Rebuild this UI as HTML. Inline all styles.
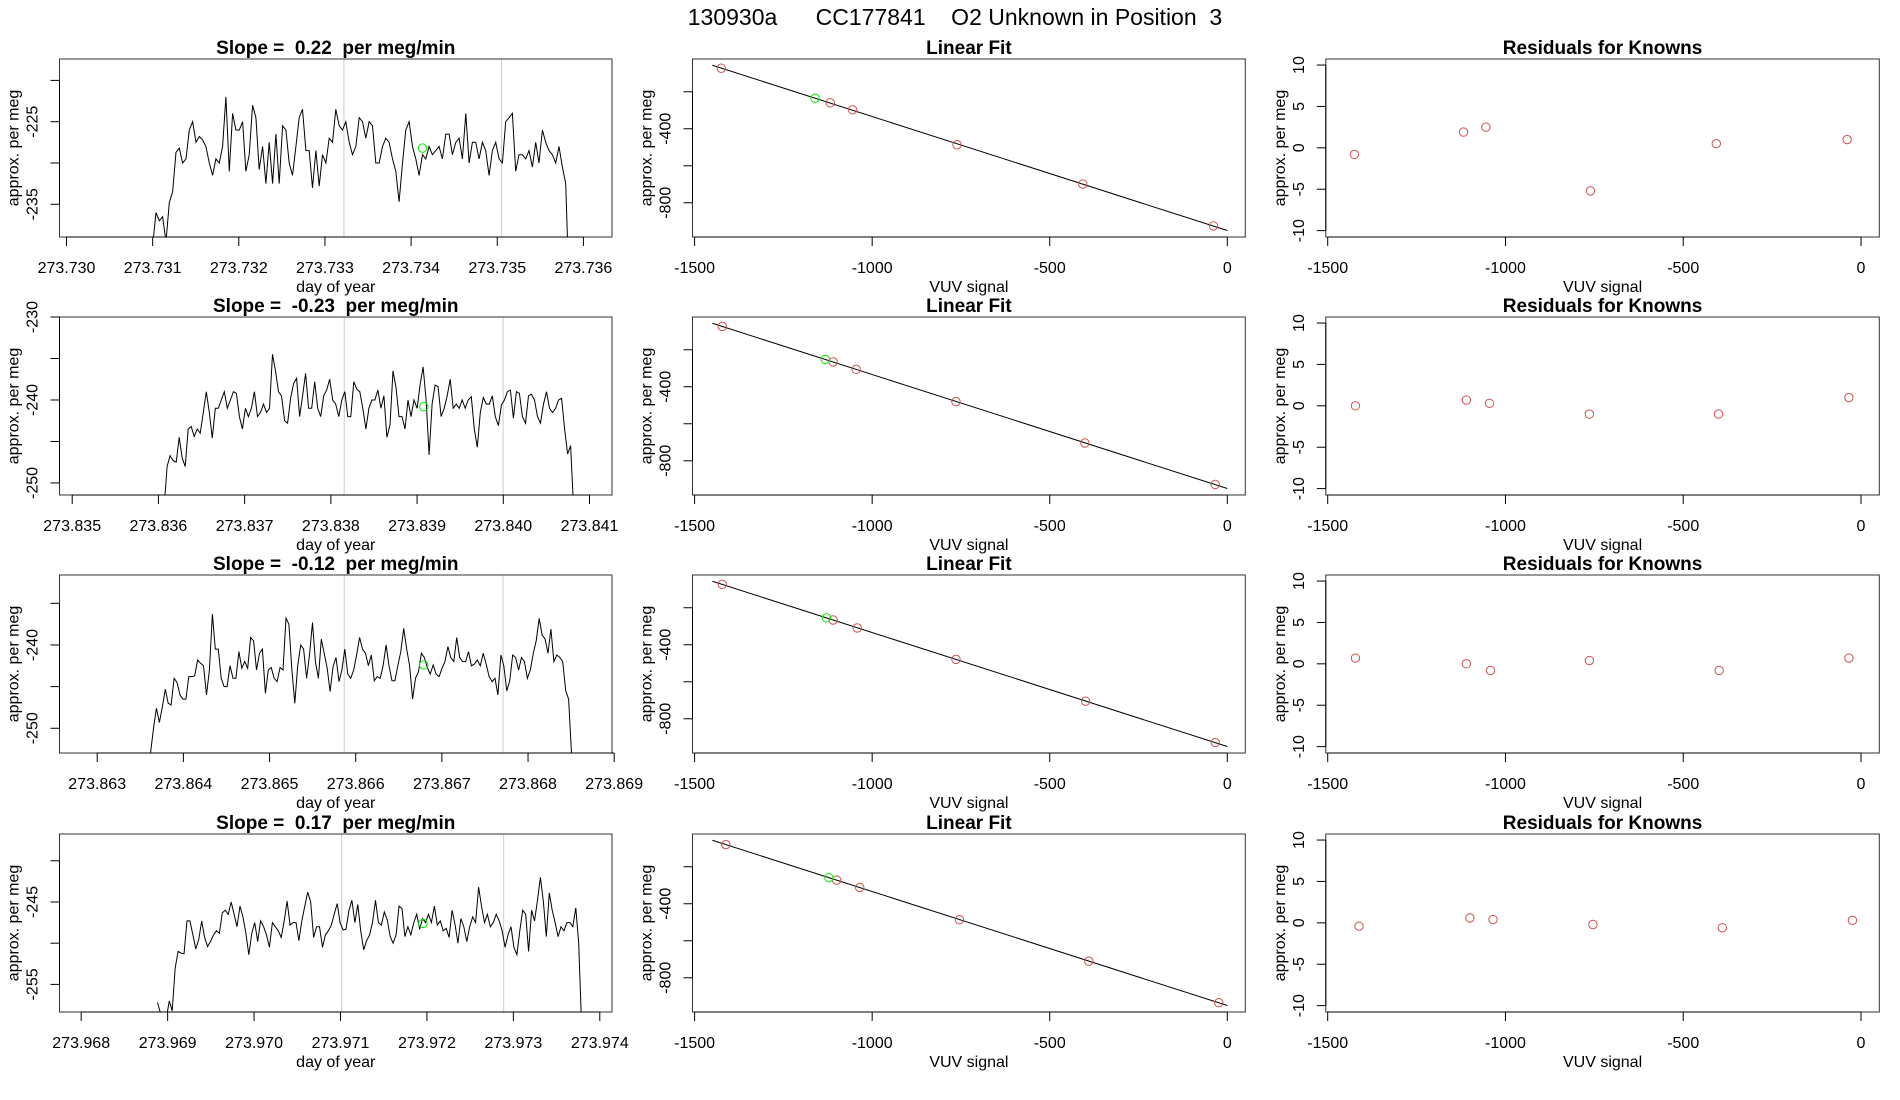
<!DOCTYPE html>
<html><head><meta charset="utf-8"><title>130930a CC177841 O2 Unknown in Position 3</title>
<style>
html,body{margin:0;padding:0;background:#fff;}
svg{display:block;font-family:"Liberation Sans",Arial,sans-serif;}
.tl{font-size:16px;fill:#000;}
.ttl{font-size:19px;font-weight:bold;fill:#000;}
.lab{font-size:16px;fill:#000;}
</style></head>
<body>
<svg id="chart" width="1900" height="1100" viewBox="0 0 1900 1100" xmlns="http://www.w3.org/2000/svg">
<text x="955" y="25" text-anchor="middle" style="font-size:23px;white-space:pre" xml:space="preserve">130930a      CC177841    O2 Unknown in Position  3</text>
</svg>
<script>
// ---- time-series data (approx. per meg) ----
const row1Vals = [-240,-236,-237,-236.5,-239.5,-234.8,-233.5,-228.7,-228.2,-230,-229.5,-226,-225,-227.5,-226.8,-227.2,-228,-230,-231.5,-229.5,-230,-228,-222,-231,-224,-226,-226,-225,-231,-229,-223,-224.5,-230.8,-228,-232.5,-227.5,-232.5,-226.5,-232.5,-225.5,-226,-230,-231.5,-228,-224.5,-223.5,-228.5,-228.5,-233,-228.5,-232.8,-229,-230,-227,-227.5,-223.5,-225.5,-226,-225,-227.5,-229,-228,-224.5,-225,-227,-225,-225.5,-230,-230,-228,-227,-227.5,-229.5,-231,-234.7,-230,-226,-225,-228,-229.5,-231.5,-229,-229.5,-228,-229,-228.5,-228,-229.5,-226.5,-226.5,-229,-227.5,-227,-229.5,-224,-230,-227.5,-227.5,-229.5,-227.5,-228.5,-231.5,-228.5,-227.5,-229.5,-230,-225,-224.5,-224,-231,-229,-229,-229.5,-228.5,-230.5,-227.5,-230,-226,-227.5,-228.5,-229,-230,-228,-230.5,-232.5,-245];
const row2Vals = [-253,-248,-246.7,-247.3,-247.5,-244.5,-247,-248,-243.5,-243.2,-244.4,-243.5,-244,-241.5,-239,-241.5,-244.6,-241,-241,-240,-239,-241,-240,-239,-239.2,-242,-243.5,-241,-242,-241,-239,-242,-241.5,-240.5,-241.5,-241,-234.5,-236.5,-239,-239.5,-242.5,-242.8,-239.8,-238,-237.4,-242,-239.5,-236.8,-241,-241,-237.8,-241,-242,-239.5,-238.8,-237.5,-240,-240.5,-242,-240,-239,-242,-242,-237.8,-238.7,-239,-241,-243.5,-241,-240,-240,-238.8,-241,-239.5,-244.5,-243,-236.5,-238.5,-242,-242,-243.5,-240,-242,-240,-241,-238.2,-236,-240,-246.6,-240.5,-238.2,-238.4,-242,-241,-239.5,-237.5,-241,-240.5,-241,-240,-241,-240,-239.6,-243.5,-245.7,-241.5,-239.7,-240.5,-240.5,-239.5,-242,-243.1,-240.6,-240,-239,-238.8,-242.2,-239,-239.2,-242,-242.8,-239.5,-239.3,-240,-242,-242.8,-240.5,-239,-241,-241.5,-241,-240,-239.8,-243.5,-246.5,-245.5,-253];
const row3Vals = [-253,-250,-247.6,-249.3,-247.5,-245.3,-247,-247.2,-244,-244.5,-246,-246.5,-246.5,-243.8,-243.8,-243.7,-241.8,-242.2,-242.5,-246,-243,-236.3,-240.5,-240.5,-244,-245,-245,-242.5,-244,-244,-240.8,-242.8,-242,-242.8,-239.1,-239.5,-243,-241,-240.5,-245.8,-243,-242.7,-244,-244.4,-242.7,-243,-236.8,-237.5,-243,-247,-242.5,-240,-240.5,-244,-241.2,-237.3,-242,-244,-239.3,-241,-242.8,-245.6,-242.6,-241.5,-244.4,-243,-240.5,-243.5,-244,-243,-241.2,-239.1,-240.5,-241,-242.5,-241.2,-244.3,-243.8,-244,-242.5,-240,-242.5,-244.3,-244.3,-242.5,-240.8,-238,-240.5,-242.5,-246.5,-244,-243.2,-241,-241.5,-242.7,-243.5,-242.4,-243.5,-243.8,-242.8,-242,-240.2,-241.5,-242,-239.1,-241.5,-242,-242,-240.8,-242.5,-242.3,-241.8,-242.5,-241,-242.3,-243.8,-244.4,-244,-246,-241.2,-242.5,-245.5,-244.3,-241.2,-241.5,-243,-241.5,-242,-244,-243,-241,-239.5,-236.8,-238.8,-239.3,-241,-238.1,-242,-241.2,-241.5,-242,-245.5,-246.5,-253];
const row4Vals = [-257.2,-258.5,-260,-259,-257,-258.2,-253,-251,-251.2,-251.3,-247.3,-247.3,-249,-250.7,-249.5,-247.3,-249.3,-250.4,-249.8,-249,-248.5,-248.8,-246.3,-246,-246.5,-245,-246.5,-248,-245.5,-246.8,-248.8,-251.4,-248.8,-247.5,-249.8,-247.3,-248,-249,-250.5,-247.5,-248,-248.5,-249.3,-247.3,-244.9,-247.8,-247.5,-247.5,-249.7,-247.3,-245.5,-243.8,-245,-249.3,-248,-248,-250.5,-249,-248.5,-247.8,-246.5,-245.2,-247.5,-248.4,-248.3,-246,-244.8,-247.5,-245.3,-248.5,-250.8,-249.7,-249,-247.5,-244.8,-247.5,-247.8,-246.2,-247.2,-249.2,-250,-249,-245.5,-245.8,-249.2,-248,-249,-247.5,-246.5,-248.3,-247,-247.5,-246.5,-247.5,-245.5,-247.8,-247.3,-248.5,-248.2,-249.3,-246,-247.7,-250,-247,-248,-249.8,-248,-246.8,-247.5,-243.2,-245.5,-247.5,-246.5,-248,-247.5,-246.5,-247.3,-248.5,-250.5,-249,-248,-250.5,-251.4,-248.5,-246,-246.5,-251,-246,-247.3,-244.8,-242,-245,-249.2,-243.9,-246,-247.5,-249.2,-248,-248.5,-247.5,-247.5,-248,-245.7,-250,-260];
const seriesStart = [273.731, 273.836066, 273.863619, 273.968883];
const seriesEnd = [273.735833, 273.840816, 273.868505, 273.97379];
const vline1Days = [273.73322, 273.838155, 273.865867, 273.971014];
const vline2Days = [273.73505, 273.839998, 273.86771, 273.972888];
const greenDays = [273.734133, 273.839079, 273.86679, 273.971953];
const greenVals = [-228.2, -240.8, -242.4, -247.6];
const slopeLabels = ["0.22", "-0.23", "-0.12", "0.17"];
const xTickLabels1 = ["273.730","273.731","273.732","273.733","273.734","273.735","273.736"];
const xTickLabels2 = ["273.835","273.836","273.837","273.838","273.839","273.840","273.841"];
const xTickLabels3 = ["273.863","273.864","273.865","273.866","273.867","273.868","273.869"];
const xTickLabels4 = ["273.968","273.969","273.970","273.971","273.972","273.973","273.974"];
const yTicks1 = [-220,-225,-230,-235];
const yTicks2 = [-230,-235,-240,-245,-250];
const yTicks3 = [-235,-240,-245,-250];
const yTicks4 = [-240,-245,-250,-255];
const yLabels1 = [-225,-235];
const yLabels2 = [-230,-240,-250];
const yLabels3 = [-240,-250];
const yLabels4 = [-245,-255];
// ---- fit / residual data ----
const knownX1 = [-1425,-1118,-1055,-761,-407,-39];
const knownX2 = [-1422,-1110,-1045,-764,-401,-34];
const knownX3 = [-1422,-1110,-1042,-764,-399,-34];
const knownX4 = [-1412,-1100,-1035,-754,-390,-24];
const resid1 = [-0.8,1.9,2.5,-5.2,0.5,1.0];
const resid2 = [0.0,0.7,0.3,-1.0,-1.0,1.0];
const resid3 = [0.7,0.0,-0.8,0.4,-0.8,0.7];
const resid4 = [-0.4,0.6,0.4,-0.2,-0.6,0.3];
const unknownX = [-1161,-1132,-1129,-1122];
const fitSlope = -0.616;
const fitIntercept = -950;
const fitXTicks = [-1500,-1000,-500,0];
const fitYTicks = [-200,-400,-600,-800];
const fitYLabels = [-400,-800];
const resYTicks = [-10,-5,0,5,10];

const NS = "http://www.w3.org/2000/svg";
const svg = document.getElementById("chart");
function mk(tag, attrs, parent) {
  const e = document.createElementNS(NS, tag);
  for (const k in attrs) e.setAttribute(k, attrs[k]);
  (parent || svg).appendChild(e);
  return e;
}
function lin(d0, d1, r0, r1) { return v => r0 + (v - d0) * (r1 - r0) / (d1 - d0); }

const rowTops = [59, 317, 575, 834];
const H = 178;
const cols = [[59.5, 612], [692.5, 1245.3], [1325.8, 1879.3]];
const allVals = [row1Vals, row2Vals, row3Vals, row4Vals];
const xLabs = [xTickLabels1, xTickLabels2, xTickLabels3, xTickLabels4];
const yTk = [yTicks1, yTicks2, yTicks3, yTicks4];
const yLb = [yLabels1, yLabels2, yLabels3, yLabels4];
// pixel anchors of first/last x tick in each time-series row
const tsTickPx = [[66.5, 583.4], [72.2, 589.5], [97.2, 614.2], [81.2, 599.8]];
const tsYDom = [[-238.96, -217.41], [-251.45, -230], [-252.97, -231.6], [-258.35, -236.75]];
const knownXs = [knownX1, knownX2, knownX3, knownX4];
const resids = [resid1, resid2, resid3, resid4];

function frame(g, L, R, T, name) {
  const b = mk("rect", {x: L, y: T, width: R - L, height: H, fill: "none", stroke: "#333", "stroke-width": 1}, g);
  
  
}
function xAxis(g, sx, ticks, labels, T, name, xlabel, cx) {
  const B = T + H;
  const a = mk("g", {}, g);
  
  
  mk("line", {x1: sx(ticks[0]), x2: sx(ticks[ticks.length - 1]), y1: B, y2: B, stroke: "#000"}, a);
  ticks.forEach((t, i) => {
    mk("line", {x1: sx(t), x2: sx(t), y1: B, y2: B + 9, stroke: "#000"}, a);
    const tx = mk("text", {x: sx(t), y: B + 36, "text-anchor": "middle", class: "tl"}, a);
    tx.textContent = labels[i];
    
    
  });
  const xl = mk("text", {x: cx, y: B + 55, "text-anchor": "middle", class: "lab"}, g);
  xl.textContent = xlabel;
  
  
}
function yAxis(g, sy, ticks, labels, L, name) {
  const a = mk("g", {}, g);
  
  
  mk("line", {x1: L, x2: L, y1: sy(ticks[0]), y2: sy(ticks[ticks.length - 1]), stroke: "#000"}, a);
  ticks.forEach(t => mk("line", {x1: L - 9, x2: L, y1: sy(t), y2: sy(t), stroke: "#000"}, a));
  labels.forEach(t => {
    const x = L - 22, y = sy(t);
    const tx = mk("text", {x: x, y: y, "text-anchor": "middle", class: "tl", transform: `rotate(-90 ${x} ${y})`}, a);
    tx.textContent = String(t);
    
    
  });
}
function yTitle(g, L, T) {
  const x = L - 41, y = T + H / 2;
  const t = mk("text", {x: x, y: y, "text-anchor": "middle", class: "lab", transform: `rotate(-90 ${x} ${y})`}, g);
  t.textContent = "approx. per meg";
  
  
}
function title(g, L, R, T, txt) {
  const t = mk("text", {x: (L + R) / 2, y: T - 5, "text-anchor": "middle", class: "ttl", "xml:space": "preserve", style: "white-space:pre"}, g);
  t.textContent = txt;
  
  
}

for (let r = 0; r < 4; r++) {
  const T = rowTops[r], B = T + H;
  // ---- column 1: time series ----
  {
    const [L, R] = cols[0];
    const g = mk("g", {});
    
    
    const ticks = xLabs[r].map(s => parseFloat(s));
    const sx = lin(ticks[0], ticks[ticks.length - 1], tsTickPx[r][0], tsTickPx[r][1]);
    const sy = lin(tsYDom[r][0], tsYDom[r][1], B, T);
    const cid = "clipts" + r;
    const cp = mk("clipPath", {id: cid}, g);
    mk("rect", {x: L, y: T, width: R - L, height: H}, cp);
    [vline1Days[r], vline2Days[r]].forEach(d => {
      const l = mk("line", {x1: sx(d), x2: sx(d), y1: T, y2: B, stroke: "#cccccc", "stroke-width": 1}, g);
      
      
    });
    const vals = allVals[r];
    const n = vals.length;
    const pts = vals.map((v, i) => {
      const d = seriesStart[r] + (seriesEnd[r] - seriesStart[r]) * i / (n - 1);
      return sx(d).toFixed(1) + "," + sy(v).toFixed(1);
    }).join(" ");
    const pl = mk("polyline", {points: pts, fill: "none", stroke: "#000", "stroke-width": 1, "clip-path": `url(#${cid})`}, g);
    
    
    const gc = mk("circle", {cx: sx(greenDays[r]), cy: sy(greenVals[r]), r: 4.2, fill: "none", stroke: "#00ee00", "stroke-width": 1}, g);
    
    
    frame(g, L, R, T, 'time-series');
    xAxis(g, sx, ticks, xLabs[r], T, 'time-series', 'day of year', (L + R) / 2);
    yAxis(g, sy, yTk[r], yLb[r], L, 'time-series');
    yTitle(g, L, T);
    title(g, L, R, T, "Slope =  " + slopeLabels[r] + "  per meg/min");
  }
  // ---- column 2: linear fit ----
  {
    const [L, R] = cols[1];
    const g = mk("g", {});
    
    
    const sx = lin(-1500, 0, 694.6, 1227.3);
    const sy = lin(-985, -23, B, T);
    const fl = mk("line", {x1: sx(-1450), y1: sy(fitIntercept + fitSlope * -1450), x2: sx(0), y2: sy(fitIntercept), stroke: "#000", "stroke-width": 1}, g);
    
    
    knownXs[r].forEach((x, i) => {
      const c = mk("circle", {cx: sx(x), cy: sy(fitIntercept + fitSlope * x + resids[r][i]), r: 4.2, fill: "none", stroke: "#d05050", "stroke-width": 1}, g);
      
      
    });
    const ux = unknownX[r];
    const uc = mk("circle", {cx: sx(ux), cy: sy(fitIntercept + fitSlope * ux), r: 4.2, fill: "none", stroke: "#00ee00", "stroke-width": 1}, g);
    
    
    frame(g, L, R, T, 'linear-fit');
    xAxis(g, sx, fitXTicks, fitXTicks.map(String), T, 'linear-fit', 'VUV signal', (L + R) / 2);
    yAxis(g, sy, fitYTicks, fitYLabels, L, 'linear-fit');
    yTitle(g, L, T);
    title(g, L, R, T, "Linear Fit");
  }
  // ---- column 3: residuals ----
  {
    const [L, R] = cols[2];
    const g = mk("g", {});
    
    
    const sx = lin(-1500, 0, 1327.7, 1861);
    const sy = lin(-10.77, 10.73, B, T);
    knownXs[r].forEach((x, i) => {
      const c = mk("circle", {cx: sx(x), cy: sy(resids[r][i]), r: 4.2, fill: "none", stroke: "#d05050", "stroke-width": 1}, g);
      
      
    });
    frame(g, L, R, T, 'residuals');
    xAxis(g, sx, fitXTicks, fitXTicks.map(String), T, 'residuals', 'VUV signal', (L + R) / 2);
    yAxis(g, sy, resYTicks, resYTicks, L, 'residuals');
    yTitle(g, L, T);
    title(g, L, R, T, "Residuals for Knowns");
  }
}
</script>
</body></html>
